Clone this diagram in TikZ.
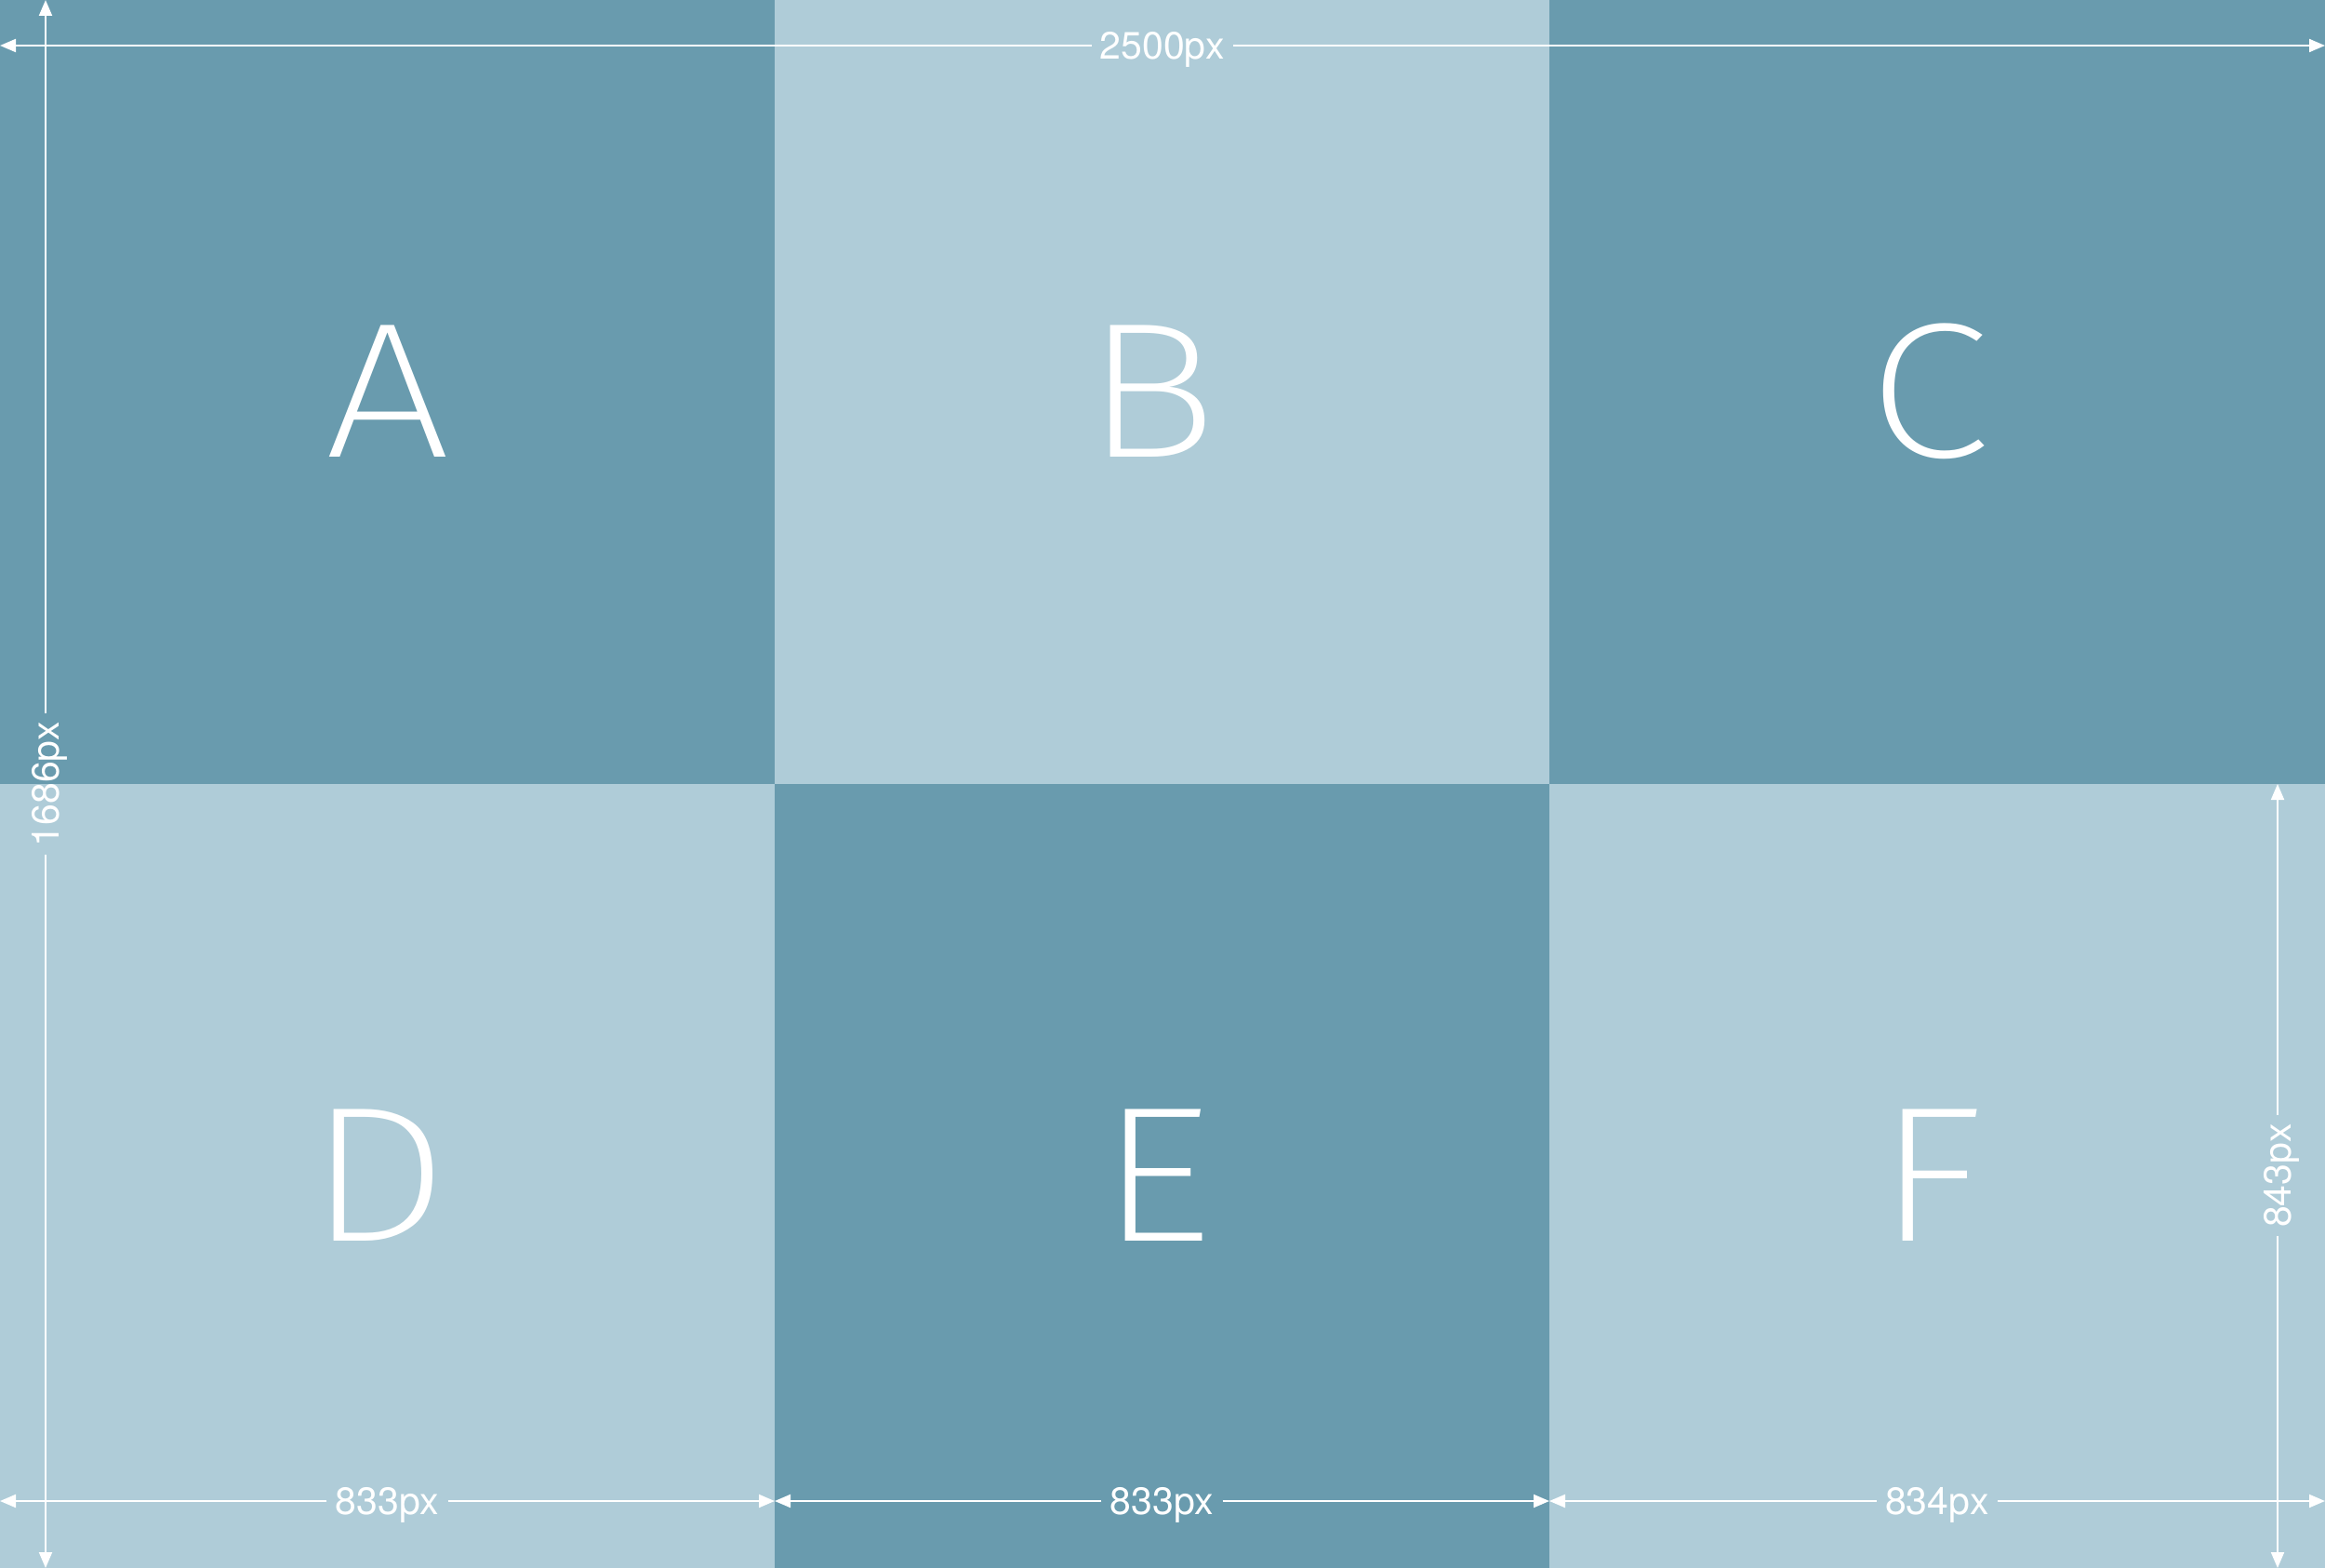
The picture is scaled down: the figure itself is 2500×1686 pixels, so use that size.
\documentclass[tikz,border=0pt]{standalone}
\usepackage{fontspec}
\setmainfont{TeX Gyre Heros}
\newfontfamily\thinfont{Fira Sans}[UprightFont=* ExtraLight, FakeStretch=1.16]
\usetikzlibrary{arrows.meta}
\definecolor{darkc}{HTML}{699BAE}
\definecolor{lightc}{HTML}{AFCCD8}
\begin{document}
\begin{tikzpicture}[x=1pt,y=-1pt,
  cell/.style={rectangle, draw=none, inner sep=0pt, outer sep=0pt, anchor=north west},
  letter/.style={text=white, anchor=base, inner sep=0pt, font=\thinfont\fontsize{207}{207}\selectfont},
  dimlabel/.style={text=white, inner xsep=9pt, inner ysep=0pt, text height=29pt, text depth=0pt, font=\fontsize{41}{41}\selectfont},
  dimarrow/.style={draw=white, line width=2pt, -{Triangle[length=17pt,width=14pt]}}
]
\useasboundingbox (0,0) rectangle (2500,1686);
% cells
\node[cell, fill=darkc,  minimum width=833pt, minimum height=843pt] (cA) at (0,0) {};
\node[cell, fill=lightc, minimum width=833pt, minimum height=843pt] (cB) at (833,0) {};
\node[cell, fill=darkc,  minimum width=834pt, minimum height=843pt] (cC) at (1666,0) {};
\node[cell, fill=lightc, minimum width=833pt, minimum height=843pt] (cD) at (0,843) {};
\node[cell, fill=darkc,  minimum width=833pt, minimum height=843pt] (cE) at (833,843) {};
\node[cell, fill=lightc, minimum width=834pt, minimum height=843pt] (cF) at (1666,843) {};
% letters
\node[letter] (lA) at ([yshift=-70pt]cA.center) {A};
\node[letter] (lB) at ([xshift=-12pt,yshift=-70pt]cB.center) {B};
\node[letter] (lC) at ([xshift=-9pt,yshift=-70pt]cC.center) {C};
\node[letter] (lD) at ([xshift=-10pt,yshift=-70pt]cD.center) {D};
\node[letter] (lE) at ([xshift=-7pt,yshift=-70pt]cE.center) {E};
\node[letter] (lF) at ([xshift=-7pt,yshift=-70pt]cF.center) {F};
% top dimension
\coordinate (tL) at (0,49);
\coordinate (tR) at (2500,49);
\node[dimlabel] (w) at (1250,49) {2500px};
\draw[dimarrow] (w.west) -- (tL);
\draw[dimarrow] (w.east) -- (tR);
% left dimension
\coordinate (lT) at (49,0);
\coordinate (lB2) at (49,1686);
\node[dimlabel, rotate=90] (h) at (49,843) {1686px};
\draw[dimarrow] (h.east) -- (lT);
\draw[dimarrow] (h.west) -- (lB2);
% right dimension
\coordinate (rT) at (2449,843);
\coordinate (rB) at (2449,1686);
\node[dimlabel, rotate=90] (h2) at (2449,1264) {843px};
\draw[dimarrow] (h2.east) -- (rT);
\draw[dimarrow] (h2.west) -- (rB);
% bottom dimensions
\coordinate (b0) at (0,1614);
\coordinate (b1) at (833,1614);
\coordinate (b2) at (1666,1614);
\coordinate (b3) at (2500,1614);
\node[dimlabel] (w1) at (416.5,1614) {833px};
\node[dimlabel] (w2) at (1249.5,1614) {833px};
\node[dimlabel] (w3) at (2083,1614) {834px};
\draw[dimarrow] (w1.west) -- (b0);
\draw[dimarrow] (w1.east) -- (b1);
\draw[dimarrow] (w2.west) -- (b1);
\draw[dimarrow] (w2.east) -- (b2);
\draw[dimarrow] (w3.west) -- (b2);
\draw[dimarrow] (w3.east) -- (b3);
\end{tikzpicture}
\end{document}
